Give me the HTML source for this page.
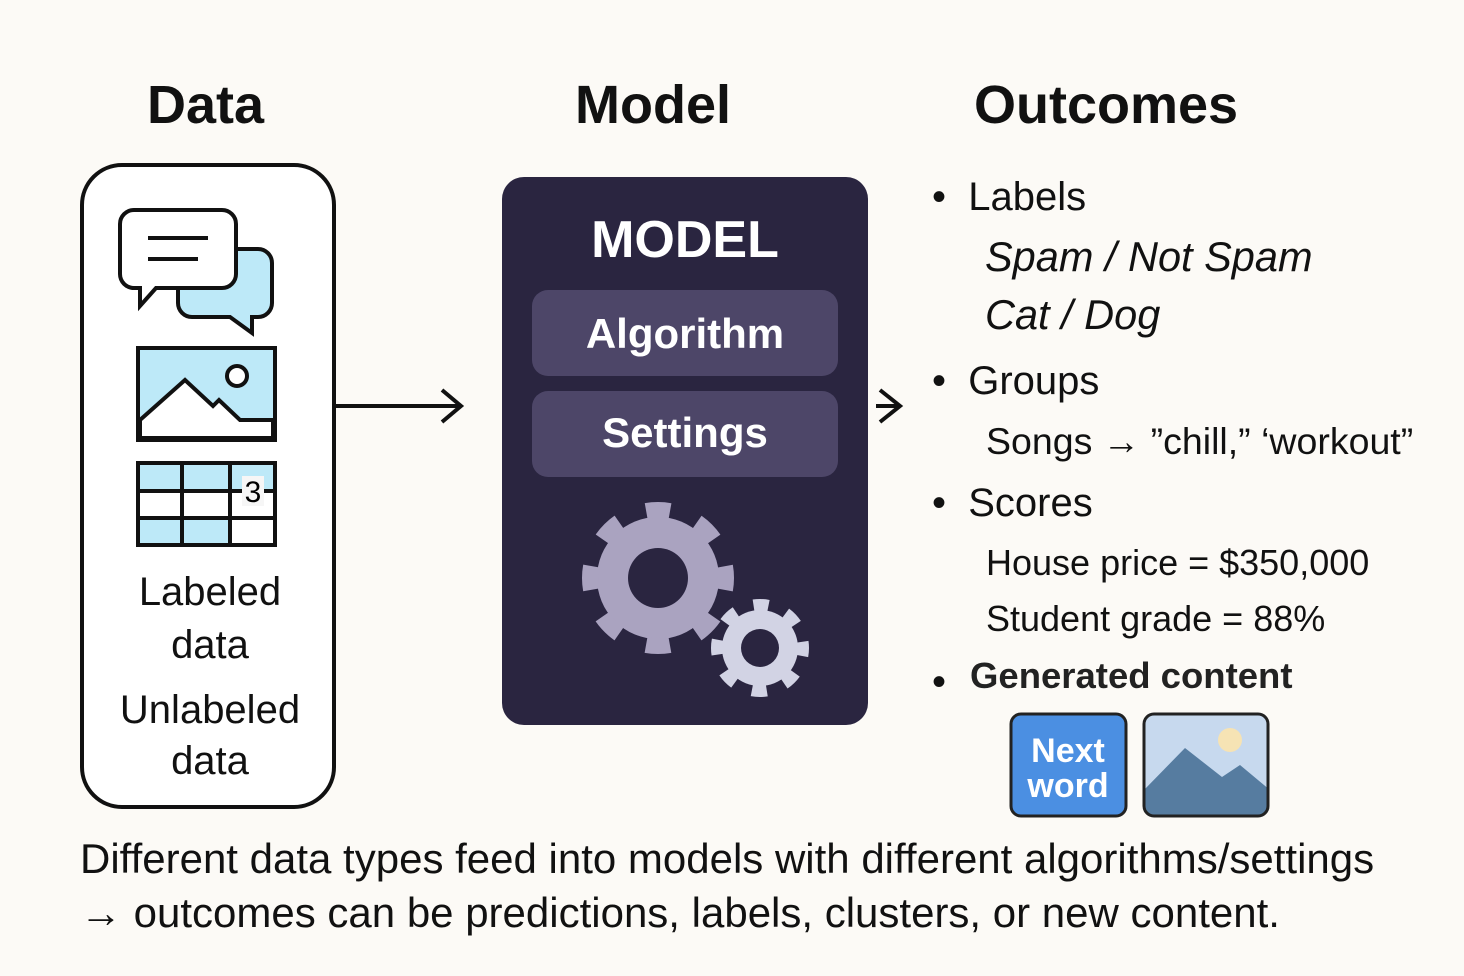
<!DOCTYPE html>
<html><head><meta charset="utf-8"><style>
body{margin:0;width:1464px;height:976px;background:#fcfaf6;font-family:"Liberation Sans",sans-serif;position:relative;overflow:hidden;color:#111}
.a{position:absolute;white-space:nowrap}
.h{font-weight:bold;font-size:54px}
.o{font-size:40px}
.i{font-style:italic;font-size:41.5px}
.s{font-size:36px}
</style></head><body>
<div class="a h" style="left:147px;top:74px">Data</div>
<div class="a h" style="left:575px;top:74px">Model</div>
<div class="a h" style="left:974px;top:74px">Outcomes</div>

<div class="a" style="left:80px;top:163px;width:248px;height:638px;border:4px solid #111;border-radius:42px;background:#fff"></div>
<svg class="a" style="left:0;top:0" width="1464" height="976">
 <path d="M198 249 h60 a14 14 0 0 1 14 14 v40 a14 14 0 0 1 -14 14 h-6 v16 l-22 -16 h-38 a14 14 0 0 1 -14 -14 v-40 a14 14 0 0 1 14 -14z" fill="#bde9f8" stroke="#111" stroke-width="4"/>
 <path d="M134 210 h88 a14 14 0 0 1 14 14 v50 a14 14 0 0 1 -14 14 h-66 l-16 18 v-18 h-6 a14 14 0 0 1 -14 -14 v-50 a14 14 0 0 1 14 -14z" fill="#fff" stroke="#111" stroke-width="4"/>
 <line x1="148" y1="238" x2="208" y2="238" stroke="#111" stroke-width="4"/>
 <line x1="148" y1="259" x2="198" y2="259" stroke="#111" stroke-width="4"/>
 <rect x="138" y="348" width="137" height="92" fill="#bde9f8" stroke="#111" stroke-width="4"/>
 <path d="M140 420 L185 380 L213 406 L219 400 L240 420 L273 420 L273 438 L140 438z" fill="#fff" stroke="#111" stroke-width="4"/>
 <circle cx="237" cy="376" r="10" fill="#fff" stroke="#111" stroke-width="4"/>
 <rect x="138" y="463" width="137" height="82" fill="#fff" stroke="#111" stroke-width="4"/>
 <rect x="140" y="465" width="133" height="24" fill="#bde9f8"/>
 <rect x="140" y="520" width="90" height="23" fill="#bde9f8"/>
 <line x1="138" y1="491" x2="275" y2="491" stroke="#111" stroke-width="4"/>
 <line x1="138" y1="518" x2="275" y2="518" stroke="#111" stroke-width="4"/>
 <line x1="182" y1="463" x2="182" y2="545" stroke="#111" stroke-width="4"/>
 <line x1="230" y1="463" x2="230" y2="545" stroke="#111" stroke-width="4"/>
 <rect x="242" y="476" width="22" height="30" fill="#f6f6f6"/>
 <text x="253" y="502" font-size="30" text-anchor="middle" font-family="Liberation Sans">3</text>
 <line x1="332" y1="406" x2="460" y2="406" stroke="#111" stroke-width="4"/>
 <path d="M442 390 L461 406 L442 422" fill="none" stroke="#111" stroke-width="4"/>
 <path d="M880 390 L900 406 L880 422" fill="none" stroke="#111" stroke-width="4"/>
 <line x1="876" y1="406" x2="899" y2="406" stroke="#111" stroke-width="4"/>
 <rect x="502" y="177" width="366" height="548" rx="22" fill="#2a2540"/>
 <rect x="532" y="290" width="306" height="86" rx="16" fill="#4d4668"/>
 <rect x="532" y="391" width="306" height="86" rx="16" fill="#4d4668"/>
 <text x="685" y="257" font-size="52" font-weight="bold" fill="#fff" text-anchor="middle" font-family="Liberation Sans">MODEL</text>
 <text x="685" y="348" font-size="42" font-weight="bold" fill="#fff" text-anchor="middle" font-family="Liberation Sans">Algorithm</text>
 <text x="685" y="447" font-size="42" font-weight="bold" fill="#fff" text-anchor="middle" font-family="Liberation Sans">Settings</text>
 <g fill="#aaa3c0">
  <circle cx="658" cy="578" r="61"/>
  <circle cx="658" cy="578" r="68" fill="none" stroke="#aaa3c0" stroke-width="16" stroke-dasharray="24 29.4" stroke-dashoffset="12"/>
 </g>
 <circle cx="658" cy="578" r="30" fill="#2a2540"/>
 <g fill="#d2d3e4">
  <circle cx="760" cy="648" r="38"/>
  <circle cx="760" cy="648" r="43" fill="none" stroke="#d2d3e4" stroke-width="12" stroke-dasharray="15 18.8" stroke-dashoffset="7"/>
 </g>
 <circle cx="760" cy="648" r="19" fill="#2a2540"/>
 <rect x="1011" y="714" width="115" height="102" rx="10" fill="#4b8fe2" stroke="#222" stroke-width="3"/>
 <text x="1068" y="762" font-size="34" font-weight="bold" fill="#fff" text-anchor="middle" font-family="Liberation Sans">Next</text>
 <text x="1068" y="797" font-size="34" font-weight="bold" fill="#fff" text-anchor="middle" font-family="Liberation Sans">word</text>
 <clipPath id="c"><rect x="1144" y="714" width="124" height="102" rx="10"/></clipPath>
 <g clip-path="url(#c)">
  <rect x="1144" y="714" width="124" height="102" fill="#c7d9ee"/>
  <circle cx="1230" cy="740" r="12" fill="#f6e3b4"/>
  <path d="M1144 790 L1185 748 L1222 777 L1240 765 L1270 790 L1270 816 L1144 816z" fill="#567ca0"/>
 </g>
 <rect x="1144" y="714" width="124" height="102" rx="10" fill="none" stroke="#222" stroke-width="3"/>
</svg>
<div class="a o" style="left:135px;top:566px;width:150px;text-align:center;line-height:53px">Labeled<br>data</div>
<div class="a o" style="left:100px;top:685px;width:220px;text-align:center;line-height:51px">Unlabeled<br>data</div>

<div class="a o" style="left:932px;top:175px">•&nbsp; Labels</div>
<div class="a i" style="left:985px;top:233px">Spam / Not Spam</div>
<div class="a i" style="left:985px;top:291px">Cat / Dog</div>
<div class="a o" style="left:932px;top:359px">•&nbsp; Groups</div>
<div class="a" style="left:986px;top:420px;font-size:37.5px">Songs → ”chill,” ‘workout”</div>
<div class="a o" style="left:932px;top:481px">•&nbsp; Scores</div>
<div class="a s" style="left:986px;top:542px">House price = $350,000</div>
<div class="a s" style="left:986px;top:598px">Student grade = 88%</div>
<div class="a" style="left:932px;top:660px;font-size:40px">•</div>
<div class="a" style="left:970px;top:655px;font-size:36.5px;font-weight:bold;color:#222">Generated content</div>

<div class="a" style="left:80px;top:832px;font-size:42px;line-height:54px">Different data types feed into models with different algorithms/settings<br>→ outcomes can be predictions, labels, clusters, or new content.</div>
</body></html>
